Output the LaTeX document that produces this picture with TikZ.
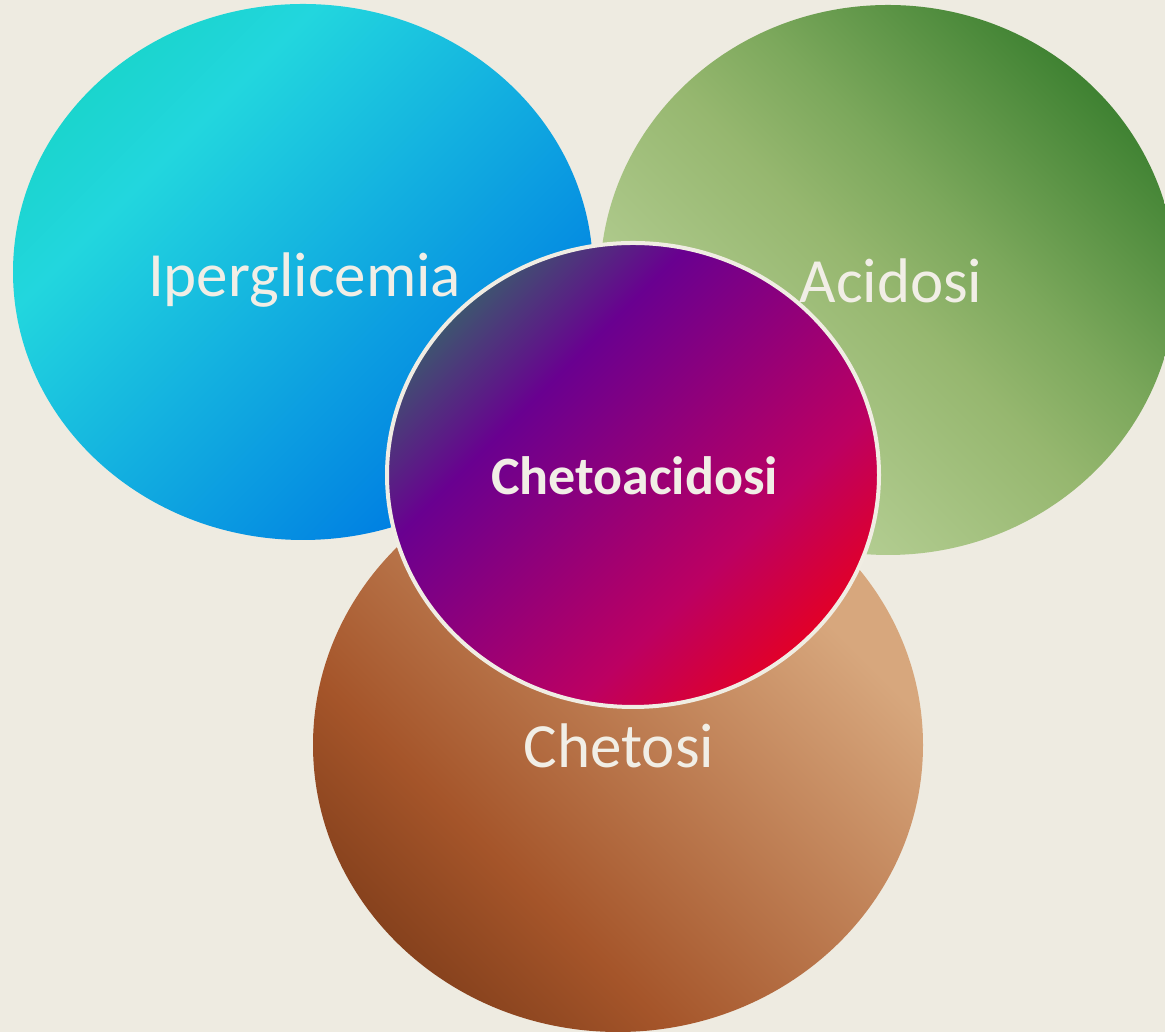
\documentclass[tikz,border=0pt]{standalone}
\usepackage{fontspec}
\setmainfont{Carlito}
\usetikzlibrary{shapes.geometric}

% palette
\definecolor{paper}{HTML}{EEEBE1}
\definecolor{ink}{HTML}{F1EEE6}
\definecolor{rim}{HTML}{F0EDE3}
\definecolor{bA}{HTML}{14D0BE}
\definecolor{bB}{HTML}{18D4C8}
\definecolor{bC}{HTML}{22D6DE}
\definecolor{bD}{HTML}{0080E2}
\definecolor{gA}{HTML}{C4DAA6}
\definecolor{gB}{HTML}{BBD39B}
\definecolor{gM}{HTML}{96B76F}
\definecolor{gN}{HTML}{7CA85C}
\definecolor{gC}{HTML}{3C8030}
\definecolor{rA}{HTML}{7C3A18}
\definecolor{rB}{HTML}{84401C}
\definecolor{rC}{HTML}{A5552A}
\definecolor{rD}{HTML}{D7A77D}
\definecolor{cA}{HTML}{3C5C6C}
\definecolor{cB}{HTML}{3E5470}
\definecolor{cC}{HTML}{690090}
\definecolor{cD}{HTML}{BC0062}
\definecolor{cE}{HTML}{E8001E}

% linear gradients, oriented later with shading angle
\pgfdeclarehorizontalshading{bluefade}{100bp}{color(0bp)=(bA); color(22bp)=(bB); color(34bp)=(bC); color(72bp)=(bD); color(100bp)=(bD)}
\pgfdeclarehorizontalshading{greenfade}{100bp}{color(0bp)=(gA); color(26bp)=(gB); color(49bp)=(gM); color(58bp)=(gN); color(76bp)=(gC); color(100bp)=(gC)}
\pgfdeclarehorizontalshading{brownfade}{100bp}{color(0bp)=(rA); color(24bp)=(rB); color(36bp)=(rC); color(70bp)=(rD); color(100bp)=(rD)}
\pgfdeclarehorizontalshading{corefade}{100bp}{color(0bp)=(cA); color(25bp)=(cB); color(37bp)=(cC); color(63bp)=(cD); color(77bp)=(cE); color(100bp)=(cE)}

\tikzset{
  blob/.style={ellipse, inner sep=0pt, outer sep=0pt},
  caption/.style={text=ink, inner sep=0pt, anchor=base, font=\fontsize{63}{63}\selectfont},
  corecaption/.style={text=ink, inner sep=0pt, anchor=base, font=\bfseries\fontsize{54}{54}\selectfont}
}

\begin{document}
\begin{tikzpicture}[x=1pt,y=1pt]
  \useasboundingbox (0,0) rectangle (1165,1032);
  \fill[paper] (0,0) rectangle (1165,1032);
  \begin{scope}
    \clip (0,0) rectangle (1165,1032);
    % three overlapping sets
    \node[blob, minimum width=580pt, minimum height=536pt,
          shading=bluefade, shading angle=-45] (iper) at (303,760) {};
    \node[blob, minimum width=576pt, minimum height=550pt,
          shading=greenfade, shading angle=45] (acid) at (888,752) {};
    \node[blob, minimum width=610pt, minimum height=574pt,
          shading=brownfade, shading angle=45] (chet) at (618,287) {};
    % intersection
    \node[blob, minimum width=492pt, minimum height=464pt,
          shading=corefade, shading angle=-45,
          draw=rim, line width=4pt] (core) at (633,557) {};
  \end{scope}
  % labels
  \node[caption] (iperlabel) at (304.5,735) {Iperglicemia};
  \node[caption] (acidlabel) at (891,729) {Acidosi};
  \node[caption] (chetlabel) at (619,264) {Chetosi};
  \node[corecaption] (corelabel) at (634.5,537) {Chetoacidosi};
\end{tikzpicture}
\end{document}
